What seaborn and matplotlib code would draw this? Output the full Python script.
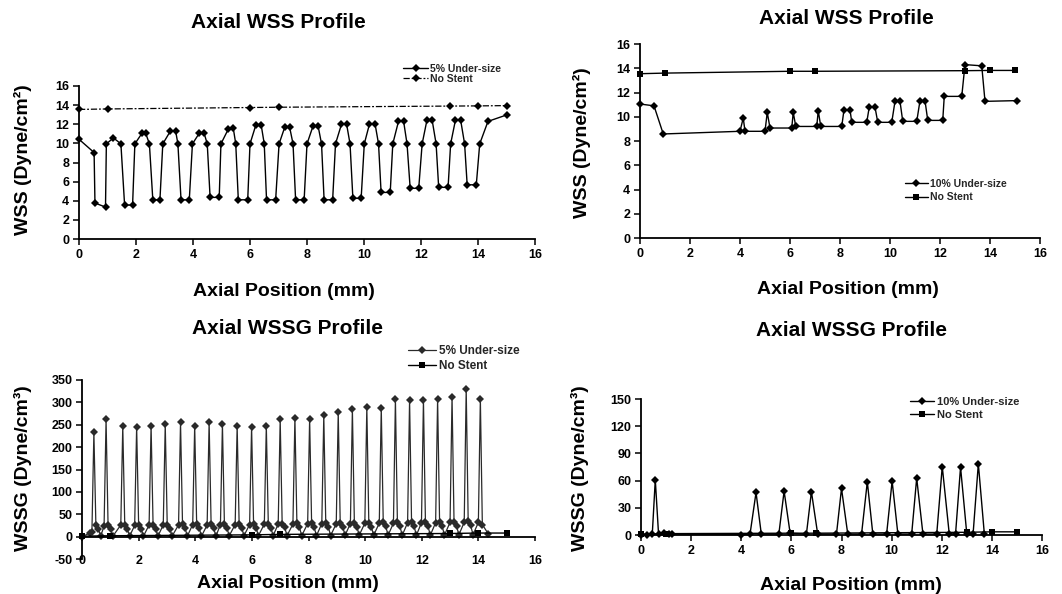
import numpy as np
import pandas as pd
import matplotlib
matplotlib.use("Agg")
import matplotlib.pyplot as plt
import seaborn as sns

# ---------------- data ----------------
# Top-left: axial WSS, 5% under-size vs no stent
wss5_x = [0, 0.53, 0.56, 0.93, 0.96,
          1.21, 1.47, 1.60, 1.88, 1.96,
          2.21, 2.34, 2.47, 2.59, 2.84, 2.94,
          3.21, 3.39, 3.47, 3.58, 3.87, 3.98,
          4.22, 4.39, 4.50, 4.60, 4.92, 4.98,
          5.24, 5.41, 5.50, 5.59, 5.92, 6.00,
          6.21, 6.39, 6.50, 6.58, 6.90, 7.02,
          7.22, 7.39, 7.51, 7.60, 7.90, 8.00,
          8.21, 8.39, 8.51, 8.60, 8.90, 9.00,
          9.21, 9.39, 9.51, 9.61, 9.90, 10.01,
          10.19, 10.39, 10.51, 10.60, 10.92, 11.01,
          11.21, 11.39, 11.51, 11.62, 11.92, 12.04,
          12.21, 12.39, 12.53, 12.62, 12.95, 13.04,
          13.21, 13.39, 13.53, 13.62, 13.94, 14.06,
          14.35, 15.03]
wss5_y = [10.43, 9.04, 3.76, 3.34, 9.95,
          10.57, 9.95, 3.55, 3.55, 9.95,
          11.06, 11.06, 9.95, 4.10, 4.10, 9.95,
          11.30, 11.30, 9.95, 4.10, 4.10, 9.95,
          11.06, 11.06, 9.95, 4.35, 4.35, 9.95,
          11.50, 11.65, 9.95, 4.10, 4.10, 9.95,
          11.96, 11.96, 9.95, 4.10, 4.10, 9.95,
          11.70, 11.70, 9.95, 4.10, 4.10, 9.95,
          11.80, 11.80, 9.95, 4.10, 4.10, 9.95,
          12.00, 12.00, 9.95, 4.25, 4.25, 9.95,
          12.00, 12.00, 9.95, 4.87, 4.87, 9.95,
          12.30, 12.30, 9.95, 5.30, 5.30, 9.95,
          12.45, 12.45, 9.95, 5.40, 5.40, 9.95,
          12.45, 12.45, 9.95, 5.67, 5.67, 9.95,
          12.30, 13.00]
nostent_wss_x = [0, 1, 6, 7, 13, 14, 15]
nostent_wss_tl_y = [13.55, 13.60, 13.75, 13.78, 13.90, 13.92, 13.95]

# Top-right: axial WSS, 10% under-size vs no stent
wss10_x = [0, 0.56, 0.93,
           4.00, 4.13, 4.20,
           5.00, 5.09, 5.20,
           6.07, 6.13, 6.23,
           7.07, 7.13, 7.23,
           8.07, 8.16, 8.40, 8.47,
           9.07, 9.17, 9.40, 9.51,
           10.07, 10.20, 10.40, 10.51,
           11.07, 11.20, 11.40, 11.51,
           12.11, 12.17, 12.87,
           13.00, 13.67,
           13.80, 15.07]
wss10_y = [11.05, 10.90, 8.58,
           8.80, 9.90, 8.80,
           8.80, 10.36, 9.07,
           9.07, 10.36, 9.20,
           9.20, 10.50, 9.20,
           9.20, 10.58, 10.58, 9.54,
           9.54, 10.80, 10.80, 9.54,
           9.54, 11.27, 11.27, 9.62,
           9.62, 11.33, 11.33, 9.70,
           9.70, 11.68, 11.68,
           14.30, 14.20,
           11.27, 11.33]
nostent_wss_tr_y = [13.55, 13.60, 13.75, 13.75, 13.80, 13.82, 13.82]

# Bottom-left: axial WSSG, 5% under-size vs no stent
wssg5_x = [0, 0.28,
           0.35, 0.42, 0.49, 0.58, 0.66,
           0.78, 0.85, 0.92, 1.01, 1.09,
           1.37, 1.44, 1.51, 1.60, 1.68,
           1.86, 1.93, 2.00, 2.09, 2.17,
           2.37, 2.44, 2.51, 2.60, 2.68,
           2.87, 2.94, 3.01, 3.10, 3.18,
           3.41, 3.48, 3.55, 3.64, 3.72,
           3.91, 3.98, 4.05, 4.14, 4.22,
           4.42, 4.49, 4.56, 4.65, 4.73,
           4.89, 4.96, 5.03, 5.12, 5.20,
           5.41, 5.48, 5.55, 5.64, 5.72,
           5.92, 5.99, 6.06, 6.15, 6.23,
           6.44, 6.51, 6.58, 6.67, 6.75,
           6.93, 7.00, 7.07, 7.16, 7.24,
           7.45, 7.52, 7.59, 7.68, 7.76,
           7.97, 8.04, 8.11, 8.20, 8.28,
           8.47, 8.54, 8.61, 8.70, 8.78,
           8.98, 9.05, 9.12, 9.21, 9.29,
           9.48, 9.55, 9.62, 9.71, 9.79,
           9.99, 10.06, 10.13, 10.22, 10.30,
           10.50, 10.57, 10.64, 10.73, 10.81,
           11.00, 11.07, 11.14, 11.23, 11.31,
           11.50, 11.57, 11.64, 11.73, 11.81,
           11.99, 12.06, 12.13, 12.22, 12.30,
           12.49, 12.56, 12.63, 12.72, 12.80,
           13.00, 13.07, 13.14, 13.23, 13.31,
           13.50, 13.57, 13.64, 13.73, 13.81,
           14.00, 14.07, 14.14, 14.35]
wssg5_y = [0, 8,
           10, 233, 26, 17, 1,
           24, 262, 27, 17, 1,
           26, 247, 27, 18, 1,
           25, 246, 27, 18, 1,
           26, 248, 27, 18, 1,
           26, 251, 27, 18, 1,
           26, 256, 28, 19, 1,
           27, 248, 28, 19, 1,
           26, 257, 28, 19, 1,
           27, 251, 28, 19, 2,
           27, 248, 28, 20, 2,
           27, 246, 28, 20, 2,
           28, 248, 29, 20, 2,
           28, 262, 29, 21, 2,
           28, 266, 30, 21, 2,
           29, 263, 30, 21, 2,
           29, 271, 30, 22, 2,
           29, 278, 31, 22, 3,
           29, 285, 31, 22, 3,
           30, 290, 31, 22, 3,
           30, 288, 32, 23, 3,
           30, 308, 32, 23, 3,
           31, 305, 32, 23, 3,
           31, 306, 33, 24, 3,
           31, 308, 33, 24, 3,
           32, 313, 33, 24, 4,
           32, 331, 34, 25, 4,
           32, 308, 27, 6]
nostent_wssg_x = [0, 1, 6, 7, 13, 14, 15]
nostent_wssg_bl_y = [1, 2, 4, 5, 7, 8, 8]

# Bottom-right: axial WSSG, 10% under-size vs no stent
wssg10_x = [0, 0.25, 0.45, 0.57, 0.70, 0.90, 1.10, 1.25,
            4.00, 4.35, 4.59, 4.80,
            5.50, 5.71, 5.95,
            6.60, 6.80, 7.05,
            7.80, 8.00, 8.25,
            8.80, 9.03, 9.25,
            9.80, 10.02, 10.25,
            10.80, 11.00, 11.25,
            11.80, 12.02, 12.30,
            12.55, 12.75, 13.00,
            13.25, 13.46, 13.70]
wssg10_y = [0.5, 0.5, 1, 60.9, 1, 2, 1.5, 1,
            0.5, 1, 46.9, 1,
            1, 48.4, 2,
            1, 47.7, 1,
            1, 51.3, 1,
            1, 58.7, 1,
            1, 59.4, 1,
            1, 62.7, 1,
            1, 75.5, 1,
            1, 74.8, 1,
            1, 78.5, 1]
nostent_wssg_br_y = [1, 1.5, 2, 2, 3, 3.5, 3.5]

x_ticks = [0, 2, 4, 6, 8, 10, 12, 14, 16]
wss_ticks = [0, 2, 4, 6, 8, 10, 12, 14, 16]
wssg5_ticks = [-50, 0, 50, 100, 150, 200, 250, 300, 350]
wssg10_ticks = [0, 30, 60, 90, 120, 150]

# ---------------- style ----------------
sns.set_theme(style="white")
plt.rcParams["font.family"] = ["Liberation Sans", "DejaVu Sans"]
plt.rcParams["font.weight"] = "bold"
plt.rcParams["axes.unicode_minus"] = False

W, H = 1062, 594
fig = plt.figure(figsize=(W / 100, H / 100), dpi=100)
fig.patch.set_facecolor("white")
TICK_FS = 9


def make_axes(x0, x1, ytop, ybot):
    ax = fig.add_axes([x0 / W, 1 - ybot / H, (x1 - x0) / W, (ybot - ytop) / H])
    ax.set_facecolor("white")
    for s in ["top", "right"]:
        ax.spines[s].set_visible(False)
    for s in ["left", "bottom"]:
        ax.spines[s].set_color("black")
        ax.spines[s].set_linewidth(1.3)
    ax.tick_params(axis="both", which="both", direction="out", length=4, width=1.1,
                   color="black", labelsize=TICK_FS, labelcolor="black", pad=3,
                   left=True, bottom=True)
    return ax


def line(ax, x, y, label, marker="D", ms=4.5, ls="-", lw=1.0, color="black"):
    sns.lineplot(x=x, y=y, ax=ax, estimator=None, sort=False, color=color,
                 linewidth=lw, linestyle=ls, marker=marker, markersize=ms,
                 markeredgewidth=0, label=label, clip_on=False)


def legend(ax, fx, fy, fs, spacing, hl):
    leg = ax.legend(loc="center left", bbox_to_anchor=(fx / W, 1 - fy / H),
                    bbox_transform=fig.transFigure, frameon=False, fontsize=fs,
                    labelspacing=spacing, handlelength=hl, handletextpad=0.2,
                    borderpad=0, borderaxespad=0)
    for t in leg.get_texts():
        t.set_fontweight("bold")


def finish(ax, xlim, ylim, yt):
    ax.set_xlim(*xlim)
    ax.set_ylim(*ylim)
    ax.set_xticks(x_ticks)
    ax.set_yticks(yt)
    ax.set_xticklabels([str(v) for v in x_ticks], fontweight="bold", fontsize=TICK_FS)
    ax.set_yticklabels([str(v) for v in yt], fontweight="bold", fontsize=TICK_FS)
    ax.set_xlabel("")
    ax.set_ylabel("")


# Top-left
ax1 = make_axes(79, 535, 86, 239)
line(ax1, wss5_x, wss5_y, "5% Under-size")
line(ax1, nostent_wss_x, nostent_wss_tl_y, "No Stent", ls=(0, (5, 1.5, 1.5, 1.5)), lw=0.9)
finish(ax1, (0, 16), (0, 16), wss_ticks)
legend(ax1, 403, 73.5, 7.5, 0.0, 2.4)

# Top-right
ax2 = make_axes(640, 1040, 44, 238)
line(ax2, wss10_x, wss10_y, "10% Under-size", ms=4.0)
line(ax2, nostent_wss_x, nostent_wss_tr_y, "No Stent", marker="s", ms=4.0)
finish(ax2, (0, 16), (0, 16), wss_ticks)
legend(ax2, 905, 190.5, 7.5, 0.35, 2.2)

# Bottom-left
ax3 = make_axes(82, 535, 380, 559)
line(ax3, wssg5_x, wssg5_y, "5% Under-size", lw=0.9, color="#2a2a2a")
line(ax3, nostent_wssg_x, nostent_wssg_bl_y, "No Stent", marker="s", ms=4.0)
finish(ax3, (0, 16), (-50, 350), wssg5_ticks)
ax3.spines["bottom"].set_position(("data", 0))
ax3.tick_params(axis="x", pad=10, length=3)
legend(ax3, 408, 358.5, 8.5, 0.3, 2.4)

# Bottom-right
ax4 = make_axes(641, 1042, 399, 535)
line(ax4, wssg10_x, wssg10_y, "10% Under-size", ms=4.0)
line(ax4, nostent_wssg_x, nostent_wssg_br_y, "No Stent", marker="s", ms=4.0)
finish(ax4, (0, 16), (0, 150), wssg10_ticks)
legend(ax4, 910, 408.5, 8, 0.3, 2.2)


# Titles and axis labels (figure text)
def ftext(x, y, s, size, rot=0):
    fig.text(x / W, 1 - y / H, s, ha="center", va="center", fontsize=size,
             fontweight="bold", rotation=rot, color="black")


ftext(278, 22, "Axial WSS Profile", 15)
ftext(846, 18, "Axial WSS Profile", 15)
ftext(288, 328, "Axial WSSG Profile", 15)
ftext(851, 330, "Axial WSSG Profile", 15)

ftext(284, 292, "Axial Position (mm)", 14)
ftext(848, 290, "Axial Position (mm)", 14)
ftext(288, 583, "Axial Position (mm)", 14)
ftext(851, 585, "Axial Position (mm)", 14)

ftext(23, 160, "WSS (Dyne/cm²)", 14, 90)
ftext(582, 143, "WSS (Dyne/cm²)", 14, 90)
ftext(23, 468, "WSSG (Dyne/cm³)", 14, 90)
ftext(580, 468, "WSSG (Dyne/cm³)", 14, 90)

fig.savefig("out.png", dpi=100, facecolor="white")
